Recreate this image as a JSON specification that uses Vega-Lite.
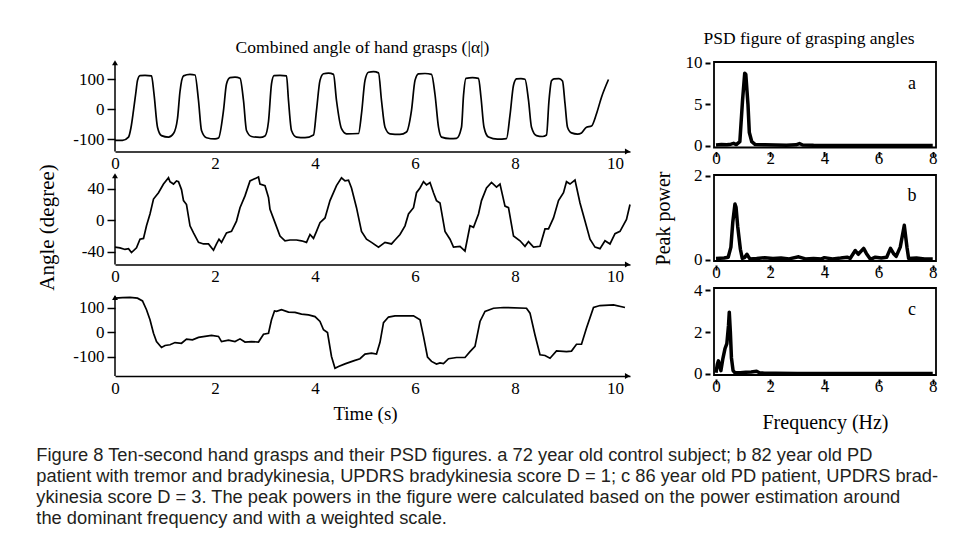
{
  "$schema": "https://vega.github.io/schema/vega-lite/v6.json",
  "background": "white",
  "padding": {"left": 36, "top": 28, "right": 0, "bottom": 0},
  "config": {
    "view": {"stroke": null},
    "axis": {"labelFont": "Liberation Serif", "titleFont": "Liberation Serif", "labelColor": "black", "titleColor": "black", "grid": false, "labelFlush": false, "labelOverlap": false, "titleFontWeight": "normal", "labelFontSize": 17, "titleFontSize": 19},
    "title": {"font": "Liberation Serif", "fontWeight": "normal", "color": "black", "fontSize": 17.5}
  },
  "datasets": {
    "p1": [
      {"t":0,"v":-103},{"t":0.15,"v":-103},{"t":0.27,"v":-92},{"t":0.32,"v":-60},{"t":0.37,"v":-3},{"t":0.42,"v":60},{"t":0.45,"v":97},{"t":0.5,"v":113},{"t":0.6,"v":114},{"t":0.73,"v":112},{"t":0.78,"v":52},{"t":0.85,"v":-59},{"t":0.93,"v":-87},{"t":1.07,"v":-92},{"t":1.17,"v":-80},{"t":1.25,"v":-30},{"t":1.3,"v":60},{"t":1.37,"v":112},{"t":1.5,"v":117},{"t":1.6,"v":115},{"t":1.67,"v":30},{"t":1.73,"v":-70},{"t":1.83,"v":-94},{"t":2.0,"v":-98},{"t":2.07,"v":-95},{"t":2.17,"v":-3},{"t":2.23,"v":85},{"t":2.3,"v":106},{"t":2.4,"v":108},{"t":2.5,"v":104},{"t":2.57,"v":30},{"t":2.63,"v":-70},{"t":2.73,"v":-90},{"t":2.9,"v":-93},{"t":3.0,"v":-88},{"t":3.07,"v":-40},{"t":3.13,"v":85},{"t":3.18,"v":113},{"t":3.3,"v":114},{"t":3.43,"v":112},{"t":3.47,"v":30},{"t":3.53,"v":-70},{"t":3.63,"v":-92},{"t":3.8,"v":-94},{"t":3.97,"v":-85},{"t":4.03,"v":-3},{"t":4.1,"v":97},{"t":4.17,"v":119},{"t":4.27,"v":121},{"t":4.37,"v":117},{"t":4.43,"v":30},{"t":4.53,"v":-64},{"t":4.63,"v":-81},{"t":4.87,"v":-80},{"t":4.93,"v":-14},{"t":5.0,"v":97},{"t":5.07,"v":124},{"t":5.17,"v":126},{"t":5.27,"v":122},{"t":5.33,"v":30},{"t":5.4,"v":-59},{"t":5.5,"v":-81},{"t":5.7,"v":-83},{"t":5.83,"v":-75},{"t":5.93,"v":-3},{"t":6.0,"v":97},{"t":6.07,"v":119},{"t":6.2,"v":120},{"t":6.33,"v":117},{"t":6.4,"v":50},{"t":6.47,"v":-59},{"t":6.53,"v":-92},{"t":6.7,"v":-97},{"t":6.83,"v":-96},{"t":6.93,"v":-59},{"t":6.97,"v":46},{"t":7.02,"v":104},{"t":7.15,"v":106},{"t":7.27,"v":104},{"t":7.32,"v":40},{"t":7.38,"v":-59},{"t":7.47,"v":-92},{"t":7.65,"v":-99},{"t":7.83,"v":-97},{"t":7.9,"v":-19},{"t":7.97,"v":81},{"t":8.03,"v":102},{"t":8.12,"v":103},{"t":8.2,"v":101},{"t":8.27,"v":31},{"t":8.33,"v":-59},{"t":8.43,"v":-87},{"t":8.55,"v":-90},{"t":8.63,"v":-85},{"t":8.68,"v":30},{"t":8.73,"v":96},{"t":8.78,"v":102},{"t":8.88,"v":103},{"t":8.95,"v":95},{"t":9.0,"v":20},{"t":9.05,"v":-59},{"t":9.13,"v":-78},{"t":9.25,"v":-82},{"t":9.33,"v":-78},{"t":9.43,"v":-59},{"t":9.53,"v":-55},{"t":9.63,"v":-14},{"t":9.73,"v":41},{"t":9.87,"v":100}
    ],
    "p2": [
      {"t":0,"v":-34},{"t":0.1,"v":-35},{"t":0.2,"v":-37},{"t":0.27,"v":-36},{"t":0.33,"v":-41},{"t":0.43,"v":-35},{"t":0.5,"v":-24},{"t":0.57,"v":-23},{"t":0.63,"v":-7},{"t":0.7,"v":8},{"t":0.77,"v":27},{"t":0.87,"v":35},{"t":0.97,"v":46},{"t":1.07,"v":54},{"t":1.1,"v":49},{"t":1.17,"v":46},{"t":1.23,"v":50},{"t":1.27,"v":49},{"t":1.33,"v":39},{"t":1.37,"v":25},{"t":1.43,"v":20},{"t":1.5,"v":-7},{"t":1.57,"v":-16},{"t":1.67,"v":-28},{"t":1.77,"v":-30},{"t":1.87,"v":-30},{"t":1.97,"v":-38},{"t":2.03,"v":-30},{"t":2.08,"v":-24},{"t":2.13,"v":-28},{"t":2.23,"v":-16},{"t":2.33,"v":-14},{"t":2.43,"v":-1},{"t":2.5,"v":16},{"t":2.6,"v":31},{"t":2.7,"v":50},{"t":2.77,"v":52},{"t":2.87,"v":55},{"t":2.9,"v":46},{"t":3.0,"v":44},{"t":3.07,"v":29},{"t":3.1,"v":14},{"t":3.2,"v":-3},{"t":3.3,"v":-20},{"t":3.4,"v":-26},{"t":3.5,"v":-25},{"t":3.63,"v":-25},{"t":3.73,"v":-26},{"t":3.83,"v":-28},{"t":3.9,"v":-18},{"t":3.97,"v":-23},{"t":4.03,"v":-14},{"t":4.1,"v":-3},{"t":4.2,"v":3},{"t":4.3,"v":25},{"t":4.43,"v":44},{"t":4.53,"v":54},{"t":4.6,"v":50},{"t":4.67,"v":51},{"t":4.73,"v":41},{"t":4.83,"v":16},{"t":4.93,"v":-14},{"t":5.03,"v":-24},{"t":5.13,"v":-28},{"t":5.27,"v":-34},{"t":5.4,"v":-28},{"t":5.53,"v":-30},{"t":5.6,"v":-25},{"t":5.7,"v":-18},{"t":5.8,"v":-7},{"t":5.87,"v":8},{"t":5.97,"v":16},{"t":6.03,"v":35},{"t":6.1,"v":41},{"t":6.17,"v":49},{"t":6.23,"v":45},{"t":6.3,"v":48},{"t":6.37,"v":35},{"t":6.43,"v":25},{"t":6.5,"v":22},{"t":6.6,"v":-14},{"t":6.7,"v":-24},{"t":6.77,"v":-34},{"t":6.9,"v":-33},{"t":7.0,"v":-39},{"t":7.1,"v":-7},{"t":7.17,"v":-9},{"t":7.27,"v":8},{"t":7.33,"v":25},{"t":7.43,"v":41},{"t":7.53,"v":48},{"t":7.63,"v":42},{"t":7.7,"v":46},{"t":7.8,"v":18},{"t":7.87,"v":16},{"t":7.97,"v":-20},{"t":8.1,"v":-26},{"t":8.2,"v":-33},{"t":8.27,"v":-27},{"t":8.37,"v":-34},{"t":8.5,"v":-33},{"t":8.6,"v":-11},{"t":8.67,"v":-11},{"t":8.77,"v":3},{"t":8.87,"v":25},{"t":8.97,"v":35},{"t":9.03,"v":49},{"t":9.1,"v":46},{"t":9.2,"v":51},{"t":9.3,"v":22},{"t":9.4,"v":-1},{"t":9.5,"v":-24},{"t":9.6,"v":-34},{"t":9.7,"v":-36},{"t":9.8,"v":-26},{"t":9.9,"v":-30},{"t":10.0,"v":-17},{"t":10.1,"v":-14},{"t":10.23,"v":1},{"t":10.3,"v":20}
    ],
    "p3": [
      {"t":0,"v":140},{"t":0.15,"v":142},{"t":0.3,"v":143},{"t":0.45,"v":140},{"t":0.55,"v":129},{"t":0.63,"v":93},{"t":0.7,"v":52},{"t":0.77,"v":-3},{"t":0.83,"v":-37},{"t":0.93,"v":-61},{"t":1.0,"v":-53},{"t":1.1,"v":-50},{"t":1.2,"v":-41},{"t":1.33,"v":-44},{"t":1.43,"v":-27},{"t":1.55,"v":-30},{"t":1.67,"v":-20},{"t":1.8,"v":-16},{"t":1.93,"v":-12},{"t":2.07,"v":-16},{"t":2.13,"v":-37},{"t":2.27,"v":-31},{"t":2.4,"v":-37},{"t":2.5,"v":-26},{"t":2.6,"v":-39},{"t":2.73,"v":-37},{"t":2.87,"v":-39},{"t":2.97,"v":-7},{"t":3.07,"v":-3},{"t":3.13,"v":52},{"t":3.19,"v":88},{"t":3.23,"v":86},{"t":3.33,"v":93},{"t":3.47,"v":83},{"t":3.6,"v":82},{"t":3.73,"v":75},{"t":3.87,"v":72},{"t":4.0,"v":65},{"t":4.1,"v":45},{"t":4.17,"v":11},{"t":4.25,"v":0},{"t":4.33,"v":-98},{"t":4.4,"v":-146},{"t":4.47,"v":-139},{"t":4.6,"v":-128},{"t":4.77,"v":-116},{"t":4.9,"v":-107},{"t":5.0,"v":-88},{"t":5.13,"v":-84},{"t":5.23,"v":-88},{"t":5.3,"v":-40},{"t":5.37,"v":40},{"t":5.47,"v":63},{"t":5.6,"v":68},{"t":5.97,"v":68},{"t":6.1,"v":52},{"t":6.17,"v":-16},{"t":6.25,"v":-100},{"t":6.33,"v":-118},{"t":6.43,"v":-129},{"t":6.5,"v":-124},{"t":6.57,"v":-127},{"t":6.67,"v":-107},{"t":6.83,"v":-102},{"t":7.0,"v":-102},{"t":7.1,"v":-78},{"t":7.2,"v":-57},{"t":7.3,"v":45},{"t":7.4,"v":86},{"t":7.57,"v":99},{"t":7.77,"v":102},{"t":8.23,"v":99},{"t":8.3,"v":79},{"t":8.4,"v":-10},{"t":8.5,"v":-91},{"t":8.6,"v":-94},{"t":8.7,"v":-105},{"t":8.83,"v":-75},{"t":9.03,"v":-78},{"t":9.13,"v":-76},{"t":9.23,"v":-48},{"t":9.33,"v":-48},{"t":9.43,"v":18},{"t":9.57,"v":102},{"t":9.7,"v":110},{"t":9.97,"v":113},{"t":10.2,"v":102}
    ],
    "psdA": [
      {"f":0,"p":0.1},{"f":0.2,"p":0.15},{"f":0.4,"p":0.12},{"f":0.55,"p":0.2},{"f":0.65,"p":0.3},{"f":0.75,"p":0.15},{"f":0.88,"p":0.5},{"f":0.98,"p":5.5},{"f":1.06,"p":8.75},{"f":1.1,"p":8.6},{"f":1.18,"p":5.0},{"f":1.23,"p":1.6},{"f":1.32,"p":0.5},{"f":1.45,"p":0.15},{"f":1.8,"p":0.12},{"f":2.2,"p":0.1},{"f":2.6,"p":0.08},{"f":2.95,"p":0.12},{"f":3.08,"p":0.28},{"f":3.2,"p":0.1},{"f":3.6,"p":0.06},{"f":4.5,"p":0.04},{"f":5.5,"p":0.03},{"f":6.5,"p":0.03},{"f":8,"p":0.03}
    ],
    "psdB": [
      {"f":0,"p":0.03},{"f":0.3,"p":0.04},{"f":0.45,"p":0.06},{"f":0.55,"p":0.3},{"f":0.62,"p":0.9},{"f":0.7,"p":1.33},{"f":0.74,"p":1.25},{"f":0.8,"p":0.8},{"f":0.9,"p":0.25},{"f":0.97,"p":0.03},{"f":1.05,"p":0.05},{"f":1.14,"p":0.13},{"f":1.25,"p":0.02},{"f":1.5,"p":0.03},{"f":1.8,"p":0.05},{"f":2.1,"p":0.03},{"f":2.4,"p":0.04},{"f":2.7,"p":0.02},{"f":3.05,"p":0.07},{"f":3.3,"p":0.02},{"f":3.6,"p":0.03},{"f":3.9,"p":0.02},{"f":4.0,"p":0.05},{"f":4.3,"p":0.02},{"f":4.6,"p":0.04},{"f":4.84,"p":0.06},{"f":4.95,"p":0.03},{"f":5.14,"p":0.22},{"f":5.25,"p":0.13},{"f":5.45,"p":0.27},{"f":5.55,"p":0.15},{"f":5.7,"p":0.01},{"f":5.88,"p":0.06},{"f":6.1,"p":0.04},{"f":6.3,"p":0.06},{"f":6.44,"p":0.27},{"f":6.55,"p":0.15},{"f":6.65,"p":0.08},{"f":6.8,"p":0.3},{"f":6.95,"p":0.82},{"f":7.05,"p":0.29},{"f":7.11,"p":0.03},{"f":7.4,"p":0.04},{"f":7.7,"p":0.02},{"f":8.0,"p":0.02}
    ],
    "psdC": [
      {"f":0,"p":0.05},{"f":0.05,"p":0.45},{"f":0.09,"p":0.62},{"f":0.18,"p":0.15},{"f":0.25,"p":0.7},{"f":0.33,"p":1.2},{"f":0.4,"p":1.45},{"f":0.46,"p":2.3},{"f":0.49,"p":2.96},{"f":0.53,"p":2.0},{"f":0.57,"p":0.76},{"f":0.63,"p":0.15},{"f":0.7,"p":0.05},{"f":0.9,"p":0.05},{"f":1.1,"p":0.07},{"f":1.3,"p":0.08},{"f":1.5,"p":0.12},{"f":1.6,"p":0.05},{"f":1.8,"p":0.03},{"f":2.2,"p":0.02},{"f":3,"p":0.01},{"f":8,"p":0.01}
    ]
  },
  "title": {
    "text": [
      "Figure 8  Ten-second hand grasps and their PSD figures. a 72 year old control subject; b 82 year old PD",
      "patient with tremor and bradykinesia, UPDRS bradykinesia score D = 1; c 86 year old PD patient, UPDRS brad-",
      "ykinesia score D = 3. The peak powers in the figure were calculated based on the power estimation around",
      "the dominant frequency and with a weighted scale."
    ],
    "orient": "bottom", "anchor": "start", "frame": "bounds", "offset": 14,
    "font": "Liberation Sans", "fontSize": 18.3, "fontWeight": "normal", "lineHeight": 21.1, "color": "#231f20"
  },
  "columns": 2,
  "align": "each",
  "bounds": "flush",
  "spacing": {"row": 23, "column": 84},
  "concat": [
    {
      "width": 515, "height": 89.5,
      "title": {"text": "Combined angle of hand grasps (|α|)", "anchor": "middle", "frame": "group", "dx": -10, "offset": 4},
      "layer": [
        {"data": {"name": "p1"}, "mark": {"type": "line", "color": "black", "strokeWidth": 1.7, "interpolate": "monotone"},
         "encoding": {
           "x": {"field": "t", "type": "quantitative", "scale": {"domain": [0, 10.3], "nice": false, "zero": false},
                 "axis": {"values": [0,2,4,6,8,10], "domain": true, "domainColor": "black", "domainWidth": 1.5, "ticks": false, "labelPadding": 4, "title": null}},
           "y": {"field": "v", "type": "quantitative", "scale": {"domain": [-140, 158.3], "nice": false, "zero": false},
                 "axis": {"values": [-100,0,100], "domain": false, "ticks": true, "tickSize": 8, "tickColor": "black", "tickWidth": 1.5, "labelPadding": 3, "title": null, "labelExpr": "replace(datum.label, '−', '-')"}}
         }},
        {"data": {"values": [{}]}, "mark": {"type": "rule", "color": "black", "strokeWidth": 1.5},
         "encoding": {"x": {"datum": 0}, "y": {"datum": -140}, "y2": {"datum": 158.3}}},
        {"data": {"values": [{}]}, "mark": {"type": "point", "shape": "triangle-up", "filled": true, "color": "black", "size": 35, "opacity": 1},
         "encoding": {"x": {"datum": 0}, "y": {"datum": 156}}},
        {"data": {"values": [{}]}, "mark": {"type": "point", "shape": "triangle-right", "filled": true, "color": "black", "size": 35, "opacity": 1},
         "encoding": {"x": {"datum": 10.25}, "y": {"datum": -140}}}
      ]
    },
    {
      "width": 222, "height": 85.5,
      "view": {"stroke": "black", "strokeWidth": 1.8},
      "title": {"text": "PSD figure of grasping angles", "anchor": "middle", "frame": "group", "dx": -16, "offset": 6.5},
      "layer": [
        {"data": {"name": "psdA"}, "mark": {"type": "line", "color": "black", "strokeWidth": 3.5, "strokeJoin": "round"},
         "encoding": {
           "x": {"field": "f", "type": "quantitative", "scale": {"domain": [-0.074, 8.12], "nice": false, "zero": false},
                 "axis": {"values": [0,1,2,3,4,5,6,7,8], "domain": false, "tickSize": 5, "tickWidth": 2, "tickColor": "black", "offset": 4, "labelPadding": -6, "labelExpr": "datum.value % 2 == 0 ? datum.label : ''", "title": null}},
           "y": {"field": "p", "type": "quantitative", "scale": {"domain": [-0.2, 10.1], "nice": false, "zero": false},
                 "axis": {"values": [0,5,10], "format": "d", "domain": false, "tickSize": 5, "tickWidth": 2, "tickColor": "black", "offset": 4, "labelPadding": 3, "title": null}}
         }},
        {"data": {"values": [{}]}, "mark": {"type": "text", "font": "Liberation Serif", "fontSize": 18, "color": "black"},
         "encoding": {"x": {"datum": 7.23}, "y": {"datum": 7.5}, "text": {"value": "a"}}}
      ]
    },
    {
      "width": 515, "height": 89.5,
      "layer": [
        {"data": {"name": "p2"}, "mark": {"type": "line", "color": "black", "strokeWidth": 1.7},
         "encoding": {
           "x": {"field": "t", "type": "quantitative", "scale": {"domain": [0, 10.3], "nice": false, "zero": false},
                 "axis": {"values": [0,2,4,6,8,10], "domain": true, "domainColor": "black", "domainWidth": 1.5, "ticks": false, "labelPadding": 4, "title": null}},
           "y": {"field": "v", "type": "quantitative", "scale": {"domain": [-56.1, 57.5], "nice": false, "zero": false},
                 "axis": {"values": [-40,0,40], "domain": false, "ticks": true, "tickSize": 8, "tickColor": "black", "tickWidth": 1.5, "labelPadding": 3, "title": "Angle  (degree)", "titleFontSize": 21, "titlePadding": 24, "titleY": 52, "labelExpr": "replace(datum.label, '−', '-')"}}
         }},
        {"data": {"values": [{}]}, "mark": {"type": "rule", "color": "black", "strokeWidth": 1.5},
         "encoding": {"x": {"datum": 0}, "y": {"datum": -56.1}, "y2": {"datum": 57.5}}},
        {"data": {"values": [{}]}, "mark": {"type": "point", "shape": "triangle-up", "filled": true, "color": "black", "size": 35, "opacity": 1},
         "encoding": {"x": {"datum": 0}, "y": {"datum": 56.5}}},
        {"data": {"values": [{}]}, "mark": {"type": "point", "shape": "triangle-right", "filled": true, "color": "black", "size": 35, "opacity": 1},
         "encoding": {"x": {"datum": 10.25}, "y": {"datum": -56.1}}}
      ]
    },
    {
      "width": 222, "height": 86,
      "view": {"stroke": "black", "strokeWidth": 1.8},
      "layer": [
        {"data": {"name": "psdB"}, "mark": {"type": "line", "color": "black", "strokeWidth": 3.5, "strokeJoin": "round"},
         "encoding": {
           "x": {"field": "f", "type": "quantitative", "scale": {"domain": [-0.074, 8.12], "nice": false, "zero": false},
                 "axis": {"values": [0,1,2,3,4,5,6,7,8], "domain": false, "tickSize": 5, "tickWidth": 2, "tickColor": "black", "offset": 4, "labelPadding": -6, "labelExpr": "datum.value % 2 == 0 ? datum.label : ''", "title": null}},
           "y": {"field": "p", "type": "quantitative", "scale": {"domain": [-0.03, 2.02], "nice": false, "zero": false},
                 "axis": {"values": [0,1,2], "format": "d", "domain": false, "tickSize": 5, "tickWidth": 2, "tickColor": "black", "offset": 4, "labelPadding": 3, "title": "Peak power", "titleFontSize": 20, "titlePadding": 20}}
         }},
        {"data": {"values": [{}]}, "mark": {"type": "text", "font": "Liberation Serif", "fontSize": 18, "color": "black"},
         "encoding": {"x": {"datum": 7.23}, "y": {"datum": 1.52}, "text": {"value": "b"}}}
      ]
    },
    {
      "width": 515, "height": 88,
      "layer": [
        {"data": {"name": "p3"}, "mark": {"type": "line", "color": "black", "strokeWidth": 1.7},
         "encoding": {
           "x": {"field": "t", "type": "quantitative", "scale": {"domain": [0, 10.3], "nice": false, "zero": false},
                 "axis": {"values": [0,2,4,6,8,10], "domain": true, "domainColor": "black", "domainWidth": 1.5, "ticks": false, "labelPadding": 4, "title": "Time (s)", "titlePadding": 8, "titleX": 250}},
           "y": {"field": "v", "type": "quantitative", "scale": {"domain": [-177.6, 181.6], "nice": false, "zero": false},
                 "axis": {"values": [-100,0,100], "domain": false, "ticks": true, "tickSize": 8, "tickColor": "black", "tickWidth": 1.5, "labelPadding": 3, "title": null, "labelExpr": "replace(datum.label, '−', '-')"}}
         }},
        {"data": {"values": [{}]}, "mark": {"type": "rule", "color": "black", "strokeWidth": 1.5},
         "encoding": {"x": {"datum": 0}, "y": {"datum": -177.6}, "y2": {"datum": 148}}},
        {"data": {"values": [{}]}, "mark": {"type": "point", "shape": "triangle-up", "filled": true, "color": "black", "size": 35, "opacity": 1},
         "encoding": {"x": {"datum": 0}, "y": {"datum": 143}}},
        {"data": {"values": [{}]}, "mark": {"type": "point", "shape": "triangle-right", "filled": true, "color": "black", "size": 35, "opacity": 1},
         "encoding": {"x": {"datum": 10.25}, "y": {"datum": -177.6}}}
      ]
    },
    {
      "width": 222, "height": 87,
      "view": {"stroke": "black", "strokeWidth": 1.8},
      "layer": [
        {"data": {"name": "psdC"}, "mark": {"type": "line", "color": "black", "strokeWidth": 3.5, "strokeJoin": "round"},
         "encoding": {
           "x": {"field": "f", "type": "quantitative", "scale": {"domain": [-0.074, 8.12], "nice": false, "zero": false},
                 "axis": {"values": [0,1,2,3,4,5,6,7,8], "domain": false, "tickSize": 5, "tickWidth": 2, "tickColor": "black", "offset": 4, "labelPadding": -6, "labelExpr": "datum.value % 2 == 0 ? datum.label : ''", "title": "Frequency (Hz)", "titleFontSize": 20, "titlePadding": 18}},
           "y": {"field": "p", "type": "quantitative", "scale": {"domain": [-0.06, 4.12], "nice": false, "zero": false},
                 "axis": {"values": [0,2,4], "format": "d", "domain": false, "tickSize": 5, "tickWidth": 2, "tickColor": "black", "offset": 4, "labelPadding": 3, "title": null}}
         }},
        {"data": {"values": [{}]}, "mark": {"type": "text", "font": "Liberation Serif", "fontSize": 18, "color": "black"},
         "encoding": {"x": {"datum": 7.23}, "y": {"datum": 3.04}, "text": {"value": "c"}}}
      ]
    }
  ]
}
